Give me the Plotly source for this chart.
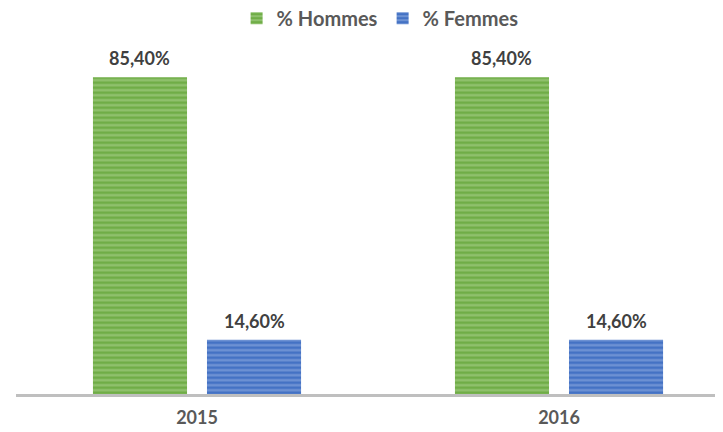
import plotly.graph_objects as go

years = ["2015", "2016"]
hommes = [85.40, 85.40]
femmes = [14.60, 14.60]
x_pos = [0, 1]

def fmt(v):
    return f"{v:.2f}".replace(".", ",") + "%"

fig = go.Figure()
fig.add_trace(go.Bar(
    x=x_pos, y=hommes, name="% Hommes",
    marker=dict(color="#70AD47", line=dict(width=0),
                pattern=dict(shape="-", fgcolor="#B5D99C", bgcolor="#70AD47", size=5, solidity=0.45)),
))
fig.add_trace(go.Bar(
    x=x_pos, y=femmes, name="% Femmes",
    marker=dict(color="#4472C4", line=dict(width=0),
                pattern=dict(shape="-", fgcolor="#9FB8E6", bgcolor="#4472C4", size=5, solidity=0.45)),
))

bargap = 0.37
off = (1 - bargap) / 4
lab_font = dict(size=18, color="#404040", family="Lato", weight="bold")
annotations = []
for xi, h, f in zip(x_pos, hommes, femmes):
    annotations.append(dict(x=xi - off, y=h, text=fmt(h), showarrow=False, yshift=19, font=lab_font))
    annotations.append(dict(x=xi + off, y=f, text=fmt(f), showarrow=False, yshift=19, font=lab_font))

# page has an 8px body margin: compensate
fig.update_layout(
    width=715, height=424,
    margin=dict(l=8, r=0, t=0, b=38),
    paper_bgcolor="white", plot_bgcolor="white",
    barmode="group", bargap=bargap, bargroupgap=0.175,
    font=dict(family="Lato", color="#595959"),
    showlegend=True,
    legend=dict(orientation="h", xref="paper", yref="container",
                x=0.515, y=0.976, xanchor="center", yanchor="middle",
                font=dict(size=20, color="#595959", family="Lato", weight="bold"),
                itemwidth=30, traceorder="normal", bgcolor="rgba(0,0,0,0)"),
    annotations=annotations,
)
fig.update_xaxes(range=[-0.5, 1.453], tickvals=x_pos, ticktext=years,
                 showline=True, linecolor="#BFBFBF", linewidth=3,
                 showgrid=False, zeroline=False,
                 ticks="outside", ticklen=5, tickcolor="rgba(0,0,0,0)",
                 tickfont=dict(size=18, color="#595959", family="Lato", weight="bold"))
fig.update_yaxes(range=[0, 96.1], visible=False, showgrid=False, zeroline=False)

fig.write_html("out.html")
